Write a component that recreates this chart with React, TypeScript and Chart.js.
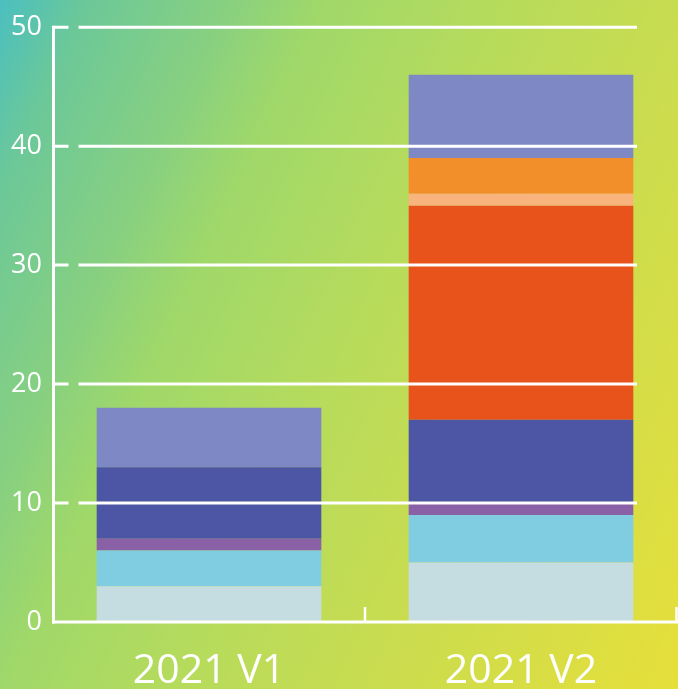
import React, { useEffect, useRef } from "react";
import { Chart, registerables } from "chart.js";

Chart.register(...registerables);

const categories = ["2021 V1", "2021 V2"];
const yTicks = [0, 10, 20, 30, 40, 50];

const seriesLightGray = [3, 5];
const seriesLightBlue = [3, 4];
const seriesPurple = [1, 1];
const seriesDarkBlue = [6, 7];
const seriesRed = [0, 18];
const seriesPeach = [0, 1];
const seriesOrange = [0, 3];
const seriesPeriwinkle = [5, 7];

const colors = ["#c5dce0", "#80cde1", "#8a60a6", "#4d56a5", "#e8531c", "#f8b47c", "#f28f2b", "#7e88c4"];

const linesPlugin = {
  id: "customLines",
  afterDatasetsDraw(chart: any) {
    const { ctx, chartArea, scales } = chart;
    const y = scales.y;
    const x = scales.x;
    ctx.save();
    ctx.strokeStyle = "#ffffff";
    ctx.lineWidth = 3;
    ctx.lineCap = "butt";
    const left = chartArea.left + 0.5;
    yTicks.forEach((v) => {
      const py = y.getPixelForValue(v);
      ctx.beginPath();
      if (v === 0) {
        ctx.moveTo(left - 1.5, py);
        ctx.lineTo(chart.width, py);
      } else {
        ctx.moveTo(left, py);
        ctx.lineTo(left + 15, py);
        ctx.moveTo(left + 25, py);
        ctx.lineTo(chartArea.right - 40, py);
      }
      ctx.stroke();
    });
    // y axis line
    ctx.beginPath();
    ctx.moveTo(left, y.getPixelForValue(50) - 1.5);
    ctx.lineTo(left, y.getPixelForValue(0) + 1.5);
    ctx.stroke();
    // x category boundary ticks
    ctx.lineWidth = 2.5;
    const base = y.getPixelForValue(0);
    for (let i = 0; i < categories.length; i++) {
      const px = (x.getPixelForValue(i) + (i + 1 < categories.length ? x.getPixelForValue(i + 1) : 2 * x.getPixelForValue(i) - x.getPixelForValue(i - 1))) / 2;
      ctx.beginPath();
      ctx.moveTo(Math.min(px, chart.width - 1.5), base);
      ctx.lineTo(Math.min(px, chart.width - 1.5), base - 15);
      ctx.stroke();
    }
    ctx.restore();
  },
};

export default function App() {
  const ref = useRef<HTMLCanvasElement | null>(null);
  useEffect(() => {
    if (!ref.current) return;
    const series = [
      seriesLightGray,
      seriesLightBlue,
      seriesPurple,
      seriesDarkBlue,
      seriesRed,
      seriesPeach,
      seriesOrange,
      seriesPeriwinkle,
    ];
    const chart = new Chart(ref.current, {
      type: "bar",
      data: {
        labels: categories,
        datasets: series.map((d, i) => ({
          label: "S" + (i + 1),
          data: d,
          backgroundColor: colors[i],
          borderWidth: 0,
          barPercentage: 0.72,
          categoryPercentage: 1,
        })),
      },
      options: {
        animation: false,
        responsive: true,
        maintainAspectRatio: false,
        layout: { padding: { top: 25, right: 1, left: 0, bottom: 0 } },
        plugins: { legend: { display: false }, tooltip: { enabled: false } },
        scales: {
          x: {
            stacked: true,
            grid: { display: false, drawTicks: false },
            border: { display: false },
            ticks: {
              color: "#ffffff",
              font: { family: "Open Sans", size: 41 },
              padding: 25,
              maxRotation: 0,
            },
            afterFit: (s: any) => {
              s.height = 67;
            },
          },
          y: {
            stacked: true,
            min: 0,
            max: 50,
            grid: { display: false, drawTicks: false },
            border: { display: false },
            ticks: {
              stepSize: 10,
              color: "#ffffff",
              font: { family: "Open Sans", size: 27 },
              padding: 11,
            },
            afterFit: (s: any) => {
              s.width = 53;
            },
          },
        },
      },
      plugins: [linesPlugin],
    });
    return () => chart.destroy();
  }, []);
  return (
    <div
      style={{
        position: "fixed",
        left: 0,
        top: 0,
        width: 678,
        height: 689,
        background:
          "linear-gradient(115deg, #4bbfc0 0%, #6cc898 9%, #88d080 23%, #9fd86a 32%, #b6db5c 50%, #c8dc50 68%, #e6df3a 100%)",
      }}
    >
      <canvas ref={ref} />
    </div>
  );
}
